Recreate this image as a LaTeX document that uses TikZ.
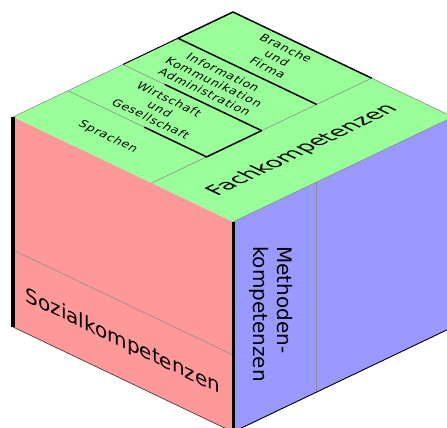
\documentclass[tikz,border=0pt]{standalone}
\usepackage{fontspec}
\setmainfont{DejaVu Sans}
\usetikzlibrary{calc}
\begin{document}
\begin{tikzpicture}[x=1pt,y=1pt,
  thinln/.style={line width=0.6pt, draw=black!45},
  heavyln/.style={line width=1.5pt, draw=black},
  edgeln/.style={line width=3.2pt, draw=black},
  bigtext/.style={font=\fontsize{20}{24}\selectfont, inner sep=0pt},
  smalltext/.style={font=\fontsize{11}{13}\selectfont\addfontfeatures{LetterSpace=6}, inner sep=0pt, align=center},
  topiso/.style={cm={1,-0.477,0.7,0.75,(0,0)}},
]
\definecolor{topgreen}{RGB}{153,255,153}
\definecolor{leftred}{RGB}{255,153,153}
\definecolor{rightblue}{RGB}{153,153,255}
\useasboundingbox (0,0) rectangle (447,428);
\clip (0,0) rectangle (447,428);
% cube corners
\coordinate (T) at (233,416);
\coordinate (L) at (13,311);
\coordinate (F) at (233,206);
\coordinate (R) at (453,311);
\coordinate (LB) at (13,101);
\coordinate (FB) at (233,-4);
\coordinate (RB) at (453,101);
% faces
\fill[topgreen] (T) -- (R) -- (F) -- (L) -- cycle;
\fill[leftred] (L) -- (F) -- (FB) -- (LB) -- cycle;
\fill[rightblue] (F) -- (R) -- (RB) -- (FB) -- cycle;
% top face subdivision points
\coordinate (a1) at (68,337.25);
\coordinate (a2) at (123,363.5);
\coordinate (a3) at (178,389.75);
\coordinate (e1) at (206.6,271.1);
\coordinate (e2) at (261.6,297.35);
\coordinate (e3) at (316.6,323.6);
\coordinate (D0) at (151.6,244.85);
\coordinate (D1) at (371.6,349.85);
% left and right face divisions
\coordinate (sl) at (13,178);
\coordinate (sr) at (233,73);
\coordinate (mt) at (316.6,245.9);
\coordinate (mb) at (316.6,35.9);
% thin lines
\draw[thinln] (L) -- (a2);
\draw[thinln] (D1) -- (R);
\draw[thinln] (F) -- (R);
\draw[thinln] (D0) -- (e1);
\draw[thinln] (e2) -- (D1);
\draw[thinln] (a1) -- ($(a1)!0.55!(e1)$);
\draw[thinln] (a2) -- ($(a2)!0.3!(e2)$);
\draw[thinln] (sl) -- (sr);
\draw[thinln] (mt) -- (mb);
\draw[line width=0.7pt, draw=black!75] (LB) -- (FB);
\draw[line width=0.9pt, draw=black] (FB) -- (RB);
% heavy lines
\draw[heavyln] ($(a1)!0.55!(e1)$) -- (e1) -- (e2);
\draw[heavyln] ($(a2)!0.3!(e2)$) -- (e2);
\draw[heavyln] (a3) -- (e3);
\draw[line width=1pt] (a2) -- (a3);
\draw[heavyln] (a3) -- (T) -- (D1);
% cube edges
\draw[edgeln] (L) -- (LB);
\draw[line width=3pt] (F) -- (FB);
% texts on top face
\node[smalltext, topiso] (sprachen) at (108,291) {Sprachen};
\node[smalltext, topiso] (wg) at (160,319) {Wirtschaft\\und\\Gesellschaft};
\node[smalltext, topiso] (ika) at (214,346) {Information\\Kommunikation\\Administration};
\node[smalltext, topiso] (buf) at (277,370) {Branche\\und\\Firma};
\node[bigtext, cm={1,0.477,-1,0.477,(0,0)}] (fach) at (302.3,277.9) {Fachkompetenzen};
% left face text
\node[bigtext, cm={1,-0.477,0,1,(0,0)}] (sozial) at (123,86) {Sozialkompetenzen};
% right face text
\node[bigtext, align=left, rotate=-90] (methoden) at (271,114) {Methoden-\\kompetenzen};
\end{tikzpicture}
\end{document}
